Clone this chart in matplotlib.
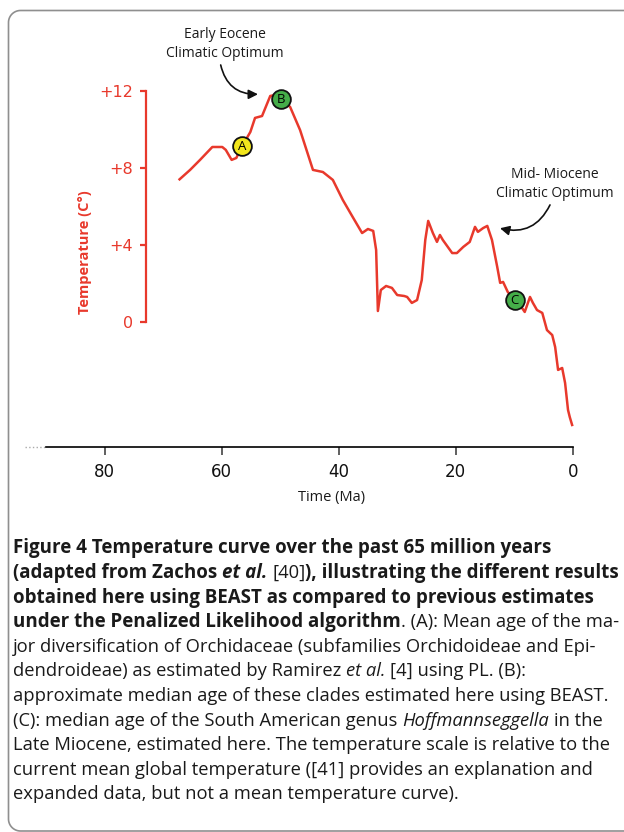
import numpy as np
import matplotlib
matplotlib.use('Agg')
import matplotlib.pyplot as plt
from matplotlib.lines import Line2D
from matplotlib.transforms import IdentityTransform

# temperature curve: age (Ma) and temperature relative to today (C)
age = [67.2, 65.4, 63.7, 61.6, 59.9, 59.3, 58.3, 57.5, 56.5, 55.1, 54.3, 53.1, 52.4,
       51.7, 50.9, 49.9, 48.3, 46.6, 44.4, 42.7, 41.0, 39.3, 37.6, 36.0, 35.0, 34.1,
       33.6, 33.3, 32.8, 31.9, 30.9, 30.0, 28.8, 28.3, 27.5, 26.6, 25.8, 25.2, 24.7,
       23.9, 23.2, 22.7, 22.2, 20.6, 19.8, 18.7, 17.6, 16.7, 16.2, 15.3, 14.6, 13.8,
       12.9, 12.4, 11.9, 11.1, 9.9, 9.0, 8.2, 7.3, 6.8, 6.1, 5.2, 4.4, 3.5, 3.0, 2.5,
       1.8, 1.3, 0.8, 0.5, 0.1]
temp = [7.41, 7.90, 8.42, 9.09, 9.09, 8.94, 8.42, 8.52, 9.14, 9.87, 10.60, 10.70, 11.22,
        11.74, 11.79, 11.58, 11.17, 9.97, 7.90, 7.79, 7.38, 6.34, 5.45, 4.62, 4.83, 4.73,
        3.74, 0.57, 1.66, 1.87, 1.77, 1.40, 1.35, 1.30, 0.99, 1.14, 2.18, 4.26, 5.25,
        4.62, 4.16, 4.52, 4.26, 3.58, 3.58, 3.90, 4.16, 4.94, 4.68, 4.88, 4.99, 4.26,
        2.86, 2.03, 2.08, 1.56, 1.14, 0.88, 0.52, 1.30, 0.99, 0.62, 0.47, -0.42, -0.68,
        -1.30, -2.49, -2.39, -3.17, -4.57, -4.94, -5.35]

# dated nodes A, B, C
node_labels = ['A', 'B', 'C']
node_age = [56.5, 49.9, 9.9]
node_temp = [9.14, 11.58, 1.14]
node_colors = ['#f2e61c', '#45ad49', '#45ad49']

x_ticks = [80, 60, 40, 20, 0]
y_ticks = [0, 4, 8, 12]
y_ticklabels = ['0', '+4', '+8', '+12']

# caption, line by line: (text, style) with b=bold, bi=bold italic, i=italic, r=regular
cap_lines = [
    [('Figure 4 Temperature curve over the past 65 million years', 'b')],
    [('(adapted from Zachos ', 'b'), ('et al.', 'bi'), (' [40]', 'r'), ('), illustrating the different results', 'b')],
    [('obtained here using BEAST as compared to previous estimates', 'b')],
    [('under the Penalized Likelihood algorithm', 'b'), ('. (A): Mean age of the ma-', 'r')],
    [('jor diversification of Orchidaceae (subfamilies Orchidoideae and Epi-', 'r')],
    [('dendroideae) as estimated by Ramirez ', 'r'), ('et al.', 'i'), (' [4] using PL. (B):', 'r')],
    [('approximate median age of these clades estimated here using BEAST.', 'r')],
    [('(C): median age of the South American genus ', 'r'), ('Hoffmannseggella', 'i'), (' in the', 'r')],
    [('Late Miocene, estimated here. The temperature scale is relative to the', 'r')],
    [('current mean global temperature ([41] provides an explanation and', 'r')],
    [('expanded data, but not a mean temperature curve).', 'r')],
]

RED = '#e8392c'
W, H = 624, 832
FONT = 'Open Sans'

def fx(px):
    return px / W

def fy(py):
    return 1 - py / H

fig = plt.figure(figsize=(W / 100, H / 100), dpi=100)

# frame: rounded on the left, open on the right (display pixels, y up)
left, top, bot, rr = 8.5, H - 10.5, H - 831, 12
th = np.linspace(0, np.pi / 2, 20)
fr_x = np.concatenate([[W + 20], left + rr - rr * np.sin(th), left + rr - rr * np.cos(th), [W + 20]])
fr_y = np.concatenate([[top], top - rr + rr * np.cos(th), bot + rr - rr * np.sin(th), [bot]])
fig.add_artist(Line2D(fr_x, fr_y, transform=IdentityTransform(), color='#8f8f8f', lw=1.2))

ax = fig.add_axes([fx(25), fy(447.3), (572.7 - 25) / W, (447.3 - 80) / H])
ax.set_xlim(93.62, 0)
ax.set_ylim(-6.51, 12.57)
ax.patch.set_visible(False)

ax.spines['top'].set_visible(False)
ax.spines['right'].set_visible(False)
ax.spines['left'].set_position(('data', 73.0))
ax.spines['left'].set_bounds(0, 12)
ax.spines['left'].set_color(RED)
ax.spines['left'].set_linewidth(1.6)
ax.spines['bottom'].set_bounds(90, 0)
ax.spines['bottom'].set_linewidth(1.2)
ax.axhline(-6.51, xmin=0, xmax=(93.62 - 90) / 93.62, color='#aaaaaa', ls=':', lw=1, clip_on=False)

ax.set_xticks(x_ticks)
ax.set_xticklabels([str(v) for v in x_ticks])
ax.tick_params(axis='x', length=6, width=1.2, color='#444444', pad=5, labelsize=12, labelcolor='#111111')
ax.set_yticks(y_ticks)
ax.set_yticklabels(y_ticklabels)
ax.tick_params(axis='y', length=4.3, width=1.6, colors=RED, pad=5, labelsize=11.5)

ax.plot(age, temp, color=RED, lw=1.8, zorder=2, clip_on=False)

for lab, a, t, c in zip(node_labels, node_age, node_temp, node_colors):
    ax.plot(a, t, 'o', ms=13.5, mfc=c, mec='#111111', mew=1.3, zorder=3, clip_on=False)
    ax.text(a, t, lab, ha='center', va='center', fontsize=9.5, family=FONT, zorder=4)

ax.annotate('', xy=(53.8, 11.83), xytext=(60.17, 13.35), annotation_clip=False,
            arrowprops=dict(arrowstyle='-|>', connectionstyle='arc3,rad=0.4', color='#111111',
                            lw=1.2, mutation_scale=14, shrinkA=0, shrinkB=0))
ax.text(59.4, 14.44, 'Early Eocene\nClimatic Optimum', ha='center', va='center',
        fontsize=10, family=FONT, linespacing=1.3, color='#1a1a1a')
ax.annotate('', xy=(12.43, 4.87), xytext=(3.88, 6.08), annotation_clip=False,
            arrowprops=dict(arrowstyle='-|>', connectionstyle='arc3,rad=-0.4', color='#111111',
                            lw=1.2, mutation_scale=14, shrinkA=0, shrinkB=0))
ax.text(3.03, 7.17, 'Mid- Miocene\nClimatic Optimum', ha='center', va='center',
        fontsize=10, family=FONT, linespacing=1.3, color='#1a1a1a')

fig.text(fx(85), fy(252), 'Temperature (C°)', rotation=90, ha='center', va='center',
         color=RED, weight='bold', fontsize=10.5, family=FONT)
fig.text(fx(332), fy(498), 'Time (Ma)', ha='center', va='center', fontsize=10.5,
         family=FONT, color='#1a1a1a')

# caption
styles = {'b': dict(weight='bold', style='normal'),
          'bi': dict(weight='bold', style='italic'),
          'i': dict(weight='normal', style='italic'),
          'r': dict(weight='normal', style='normal')}
cap_fs = {'b': 13.5, 'bi': 13.5, 'i': 13.2, 'r': 13.2}
rend = fig.canvas.get_renderer()

def width_of(s, kw):
    t = fig.text(0, 0, s, **kw)
    w = t.get_window_extent(rend).width
    t.remove()
    return w

for i, segs in enumerate(cap_lines):
    x = 13
    y = 553.3 + i * 24.6
    for s, k in segs:
        kw = dict(fontsize=cap_fs[k], family=FONT, **styles[k])
        sp = width_of('a a', kw) - width_of('aa', kw)
        if s.startswith(' '):
            x += sp
        t = fig.text(fx(x), fy(y), s.strip(), va='baseline', ha='left', color='#1a1a1a', **kw)
        x += t.get_window_extent(rend).width
        if s.endswith(' '):
            x += sp

fig.savefig('out.png', dpi=100)
